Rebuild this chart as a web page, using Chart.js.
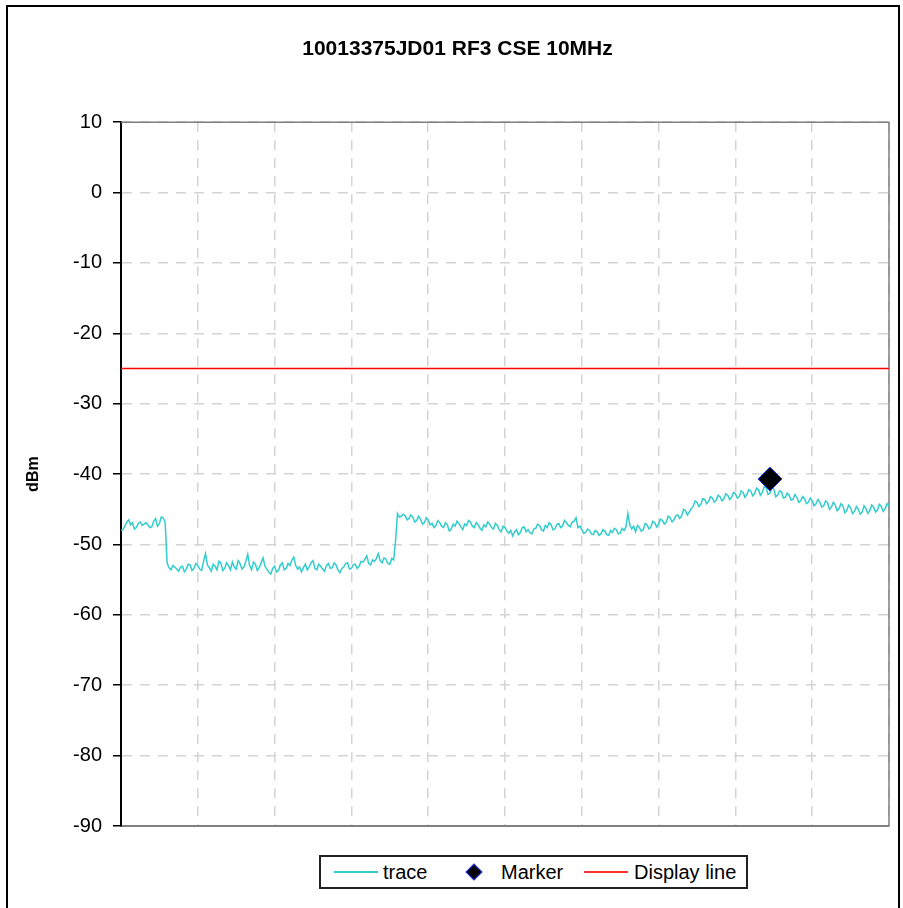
<!DOCTYPE html>
<html>
<head>
<meta charset="utf-8">
<script src="https://cdn.jsdelivr.net/npm/chart.js@4/dist/chart.umd.min.js"></script>
<style>
  html, body { margin: 0; padding: 0; background: #ffffff; }
  body { width: 903px; height: 908px; position: relative; overflow: hidden; font-family: "Liberation Sans", Arial, sans-serif; }
  #frame { position: absolute; left: 6px; top: 5px; width: 894px; height: 920px; border: 2px solid #000; box-sizing: border-box; pointer-events: none; }
  #c { position: absolute; left: 0; top: 0; }
  #legend { position: absolute; left: 319px; top: 855px; width: 429px; height: 34px; border: 2px solid #222; box-sizing: border-box; background: #fff; }
  .lg { position: absolute; font-size: 20px; line-height: 20px; color: #000; white-space: nowrap; }
  .sw { position: absolute; height: 2px; }
  .dia { position: absolute; width: 10px; height: 10px; background: #000; border: 1px solid #2233ff; transform: rotate(45deg); }
</style>
</head>
<body>
<div id="frame"></div>
<canvas id="c" width="903" height="908"></canvas>
<div id="legend"></div>
<script>
// ---- data ----
const chartTitle = "10013375JD01 RF3 CSE 10MHz";
const yAxisTitle = "dBm";
const yTicks = [10, 0, -10, -20, -30, -40, -50, -60, -70, -80, -90];
const seriesNames = ["trace", "Marker", "Display line"];

// trace level (dBm) for each of 401 sweep points
const traceDb = [
  -48.0, -47.9, -47.4, -46.8, -46.5, -47.2, -46.9, -47.8, -47.6, -47.0,
  -46.8, -47.3, -47.1, -46.9, -47.2, -47.6, -47.5, -46.7, -46.3, -47.4,
  -47.0, -46.1, -46.2, -46.9, -52.6, -53.3, -53.6, -53.0, -53.2, -53.5,
  -53.8, -53.2, -53.1, -53.9, -53.5, -52.8, -52.9, -53.7, -53.4, -52.7,
  -53.0, -53.5, -53.7, -52.4, -51.3, -52.9, -53.3, -53.8, -52.8, -53.1,
  -53.6, -52.4, -52.6, -53.7, -53.4, -52.6, -53.0, -53.6, -52.5, -53.2,
  -53.5, -52.3, -52.7, -53.5, -53.2, -52.4, -51.4, -53.0, -53.6, -52.5,
  -52.8, -53.7, -53.3, -52.6, -51.9, -53.1, -53.5, -53.9, -54.2, -53.4,
  -53.1, -53.9, -53.7, -52.9, -52.6, -53.6, -53.4, -52.7, -53.0, -52.2,
  -51.8, -53.0, -53.5, -53.2, -53.9, -53.3, -52.8, -53.6, -53.2, -52.6,
  -52.3, -53.4, -53.6, -52.8, -53.1, -53.5, -53.8, -53.0, -52.7, -53.4,
  -53.3, -52.6, -52.9, -53.6, -54.0, -53.4, -53.2, -52.7, -52.6, -53.5,
  -53.4, -52.9, -52.8, -53.4, -53.1, -52.4, -52.5, -52.1, -51.6, -52.7,
  -52.9, -52.2, -52.4, -52.0, -51.3, -52.3, -52.6, -51.9, -52.1, -52.7,
  -52.8, -52.0, -52.2, -49.5, -45.6, -46.1, -46.0, -45.7, -45.9, -46.5,
  -46.3, -45.8, -46.1, -46.8, -46.6, -46.0, -46.4, -47.1, -46.9, -46.2,
  -46.5, -47.2, -47.0, -47.6, -47.3, -46.6, -46.9, -47.4, -47.6, -46.9,
  -47.2, -48.1, -47.8, -47.1, -47.4, -46.7, -47.0, -47.5, -47.9, -47.1,
  -47.3, -46.6, -46.8, -47.4, -47.6, -46.9, -47.2, -47.7, -48.0, -47.2,
  -47.5, -46.8, -47.1, -47.6, -47.8, -47.0, -47.3, -47.9, -48.2, -47.4,
  -47.6, -48.1, -48.4, -48.0, -48.8, -48.2, -47.9, -48.6, -48.3, -47.6,
  -47.5, -48.2, -47.9, -48.3, -48.5, -47.8, -47.7, -47.1, -47.3, -47.9,
  -48.1, -47.3, -47.6, -46.9, -47.2, -47.9, -47.8, -47.2, -47.0, -47.6,
  -47.4, -46.6, -46.9, -47.3, -47.5, -46.8, -46.7, -46.2, -47.6, -47.4,
  -47.9, -48.4, -48.3, -47.8, -48.0, -48.5, -48.6, -48.0, -48.2, -48.7,
  -48.5, -47.9, -48.1, -48.6, -48.7, -48.0, -48.3, -47.7, -47.9, -48.5,
  -48.4, -47.7, -48.0, -47.5, -45.6, -47.2, -47.8, -47.4, -48.2, -47.3,
  -47.6, -48.1, -47.9, -47.0, -47.2, -47.8, -47.5, -46.7, -46.9, -47.5,
  -47.1, -46.4, -46.6, -47.1, -46.8, -46.0, -46.2, -46.8, -46.5, -45.9,
  -45.8, -46.3, -45.9, -45.0, -45.2, -45.8, -45.4, -44.9, -44.6, -43.8,
  -44.0, -44.6, -44.3, -43.5, -43.6, -44.2, -43.9, -43.2, -43.4, -44.0,
  -43.7, -43.0, -43.2, -43.8, -43.5, -42.8, -43.0, -43.6, -43.3, -42.6,
  -42.8, -43.4, -43.2, -42.4, -42.6, -43.3, -42.9, -42.2, -42.4, -43.1,
  -42.8, -42.0, -42.2, -43.0, -42.6, -41.8, -41.9, -42.9, -42.7, -41.9,
  -42.1, -43.2, -43.0, -42.4, -42.5, -43.4, -43.3, -42.7, -43.0, -43.7,
  -43.6, -42.9, -43.3, -44.0, -43.8, -43.2, -43.5, -44.2, -44.0, -43.4,
  -43.8, -44.5, -44.2, -43.6, -44.0, -44.7, -44.5, -43.8, -44.1, -45.0,
  -44.7, -44.0, -44.4, -45.2, -44.9, -44.2, -44.5, -45.5, -45.2, -44.4,
  -44.8, -45.6, -45.3, -44.6, -45.0, -45.7, -45.4, -44.5, -44.9, -45.6,
  -45.2, -44.4, -44.7, -45.4, -45.1, -44.3, -44.6, -45.3, -44.9, -44.2,
  -44.5
];
const markerIndex = [338];
const markerDb = [-40.7];
const displayLineDb = [-25, -25];
const displayLineIndex = [0, 400];

// ---- chart ----
const FONT = "'Liberation Sans', Arial, sans-serif";
const tracePoints = traceDb.map((v, i) => ({ x: i, y: v }));
const markerPoints = markerDb.map((v, i) => ({ x: markerIndex[i], y: v }));
const displayPoints = displayLineDb.map((v, i) => ({ x: displayLineIndex[i], y: v }));

const plotFrame = {
  id: 'plotFrame',
  beforeDatasetsDraw(chart) {
    const { ctx, chartArea: a } = chart;
    ctx.save();
    ctx.strokeStyle = '#808080';
    ctx.lineWidth = 1.5;
    ctx.beginPath();
    ctx.moveTo(a.left, a.top);
    ctx.lineTo(a.right, a.top);
    ctx.lineTo(a.right, a.bottom);
    ctx.stroke();
    ctx.restore();
  }
};

new Chart(document.getElementById('c'), {
  type: 'scatter',
  data: {
    datasets: [
      { label: seriesNames[0], data: tracePoints, showLine: true, borderColor: '#33cccc', backgroundColor: '#33cccc', borderWidth: 1.5, pointRadius: 0, tension: 0, order: 2 },
      { label: seriesNames[1], data: markerPoints, showLine: false, pointStyle: 'rectRot', pointRadius: 12, backgroundColor: '#000000', borderColor: '#2233ff', borderWidth: 1, order: 0 },
      { label: seriesNames[2], data: displayPoints, showLine: true, borderColor: '#ff0000', backgroundColor: '#ff0000', borderWidth: 1.5, pointRadius: 0, order: 1 }
    ]
  },
  options: {
    responsive: false,
    animation: false,
    devicePixelRatio: 1,
    layout: { padding: { left: 26, right: 14, top: 0, bottom: 82 } },
    plugins: {
      legend: { display: false },
      tooltip: { enabled: false },
      title: {
        display: true, text: chartTitle, color: '#000',
        font: { family: FONT, size: 21, weight: 'bold', lineHeight: 1.2 },
        padding: { top: 37, bottom: 60 }
      }
    },
    scales: {
      x: {
        type: 'linear', min: 0, max: 400,
        ticks: { display: false, stepSize: 40 },
        grid: { color: '#d4d4d4', lineWidth: 1.5, drawTicks: false },
        border: { display: true, color: '#808080', width: 2, dash: [10, 8] },
        afterFit(s) { s.height = 0; }
      },
      y: {
        type: 'linear', min: -90, max: 10,
        afterBuildTicks(s) { s.ticks = yTicks.map(v => ({ value: v })); },
        ticks: { color: '#000', font: { family: FONT, size: 20 }, padding: 11 },
        grid: { color: '#d4d4d4', lineWidth: 1.5, tickLength: 8, tickColor: '#000', tickWidth: 1.5 },
        border: { display: true, color: '#000', width: 2, dash: [10, 8] },
        title: { display: true, text: yAxisTitle, color: '#000', font: { family: FONT, size: 16, weight: 'bold', lineHeight: 1 }, padding: 0 },
        afterFit(s) { s.width = 95; }
      }
    }
  },
  plugins: [plotFrame]
});

// ---- legend (HTML) ----
const lg = document.getElementById('legend');
function add(html) { lg.insertAdjacentHTML('beforeend', html); }
add('<div class="sw" style="left:13px;top:14px;width:44px;background:#33cccc"></div>');
add('<div class="lg" style="left:62px;top:5px">' + seriesNames[0] + '</div>');
add('<div class="dia" style="left:147px;top:9px"></div>');
add('<div class="lg" style="left:180px;top:5px">' + seriesNames[1] + '</div>');
add('<div class="sw" style="left:263px;top:14px;width:44px;background:#ff3333"></div>');
add('<div class="lg" style="left:313px;top:5px">' + seriesNames[2] + '</div>');
</script>
</body>
</html>
